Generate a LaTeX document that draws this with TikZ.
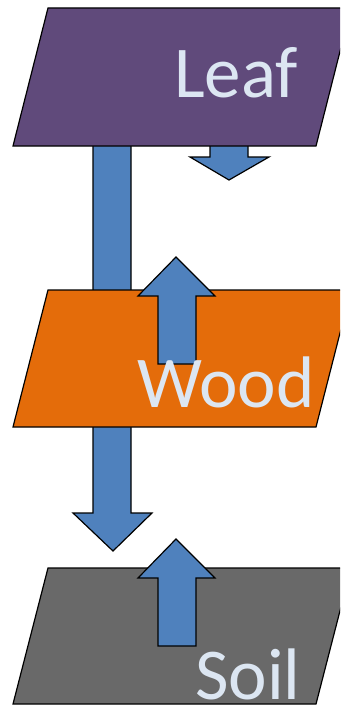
\documentclass[tikz,border=0pt]{standalone}
\usepackage{fontspec}
\newfontfamily\labelfont{Carlito}
\definecolor{leafpurple}{HTML}{604A7B}
\definecolor{woodorange}{HTML}{E46C0A}
\definecolor{soilgray}{HTML}{696969}
\definecolor{flowblue}{HTML}{4F81BD}
\definecolor{labeltext}{HTML}{DCE6F2}
\tikzset{
  pool/.style={draw=black,line width=1.2pt},
  flow/.style={draw=black,fill=flowblue,line width=1.2pt,line join=miter},
  poolname/.style={inner sep=0pt,text=labeltext,font=\labelfont\fontsize{73}{88}\selectfont}
}

\begin{document}
\begin{tikzpicture}[x=1pt,y=-1pt]
  \useasboundingbox (0,0) rectangle (340,706);
  \clip (0,0) rectangle (340,706);
  % flows hidden behind the pools
  \draw[flow] (93,120)--(131,120)--(131,513)--(152,513)--(113,551)--(73,513)--(93,513)--cycle;
  \draw[flow] (210,120)--(248,120)--(248,157)--(269,157)--(229,180)--(190,157)--(210,157)--cycle;
  % pools
  \draw[pool,fill=leafpurple] (48,8)--(351,8)--(316,146)--(13,146)--cycle;
  \draw[pool,fill=woodorange] (48,290)--(351,290)--(316,427)--(13,427)--cycle;
  \draw[pool,fill=soilgray] (48,568)--(351,568)--(316,704)--(13,704)--cycle;
  % flows on top
  \draw[flow] (158,364)--(196,364)--(196,296)--(215,296)--(176,257)--(138,296)--(158,296)--cycle;
  \draw[flow] (158,646)--(196,646)--(196,578)--(215,578)--(176,539)--(138,578)--(158,578)--cycle;
  % names
  \node[poolname,anchor=base west] (leaf) at (174,98) {Leaf};
  \node[poolname,anchor=base west] (wood) at (137,407) {Wood};
  \node[poolname,anchor=base west] (soil) at (195,699) {Soil};
\end{tikzpicture}
\end{document}
